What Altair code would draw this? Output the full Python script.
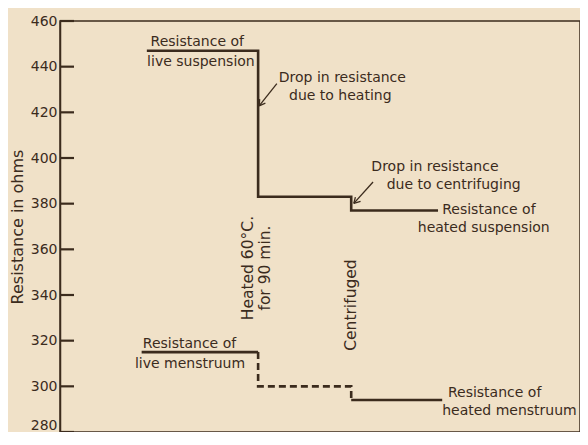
import altair as alt
import pandas as pd

# ---- data ----
# x is an arbitrary time/stage axis (0-100), y is resistance in ohms
susp_x = [16.7, 38.1, 56.0, 72.7]
susp_y = [447, 383, 377, 377]

mens_live_x = [15.7, 38.1]
mens_live_y = [315, 315]
mens_drop_x = [38.1, 38.1, 56.0]
mens_drop_y = [315, 300, 294]
mens_heat_x = [56.0, 73.5]
mens_heat_y = [294, 294]

y_ticks = [280, 300, 320, 340, 360, 380, 400, 420, 440, 460]

ann_text = ["Resistance of", "live suspension",
            "Drop in resistance", "due to heating",
            "Drop in resistance", "due to centrifuging",
            "Resistance of", "live menstruum"]
ann_x = [26.4, 27.1, 54.3, 53.9, 72.1, 75.7, 24.9, 25.0]
ann_y = [450.6, 442.0, 435.2, 427.3, 396.0, 388.0, 318.5, 310.0]

left_text = ["Resistance of", "heated suspension", "Resistance of", "heated menstruum"]
left_x = [73.5, 68.8, 74.6, 73.5]
left_y = [377.1, 369.2, 297.0, 289.0]

rot_text = ["Heated 60°C.", "for 90 min.", "Centrifuged"]
rot_x = [36.1, 39.4, 56.0]
rot_y = [351.8, 351.8, 335.6]

# arrows: shaft + two barbs, each a segment id
arrow_seg = ["a1", "a1", "a1b1", "a1b1", "a1b2", "a1b2",
             "a2", "a2", "a2b1", "a2b1", "a2b2", "a2b2"]
arrow_x = [41.7, 38.3, 38.3, 39.5, 38.3, 38.4,
           60.2, 56.5, 56.5, 57.8, 56.5, 56.8]
arrow_y = [432.6, 422.8, 422.8, 424.0, 422.8, 425.8,
           389.5, 380.1, 380.1, 381.0, 380.1, 382.9]

INK = "#3b2b1d"
BG = "#f0e1c8"
FONT = "DejaVu Sans"
FS = 14

xs = alt.Scale(domain=[0, 100], nice=False)
ys = alt.Scale(domain=[280, 460], nice=False, zero=False)

def line_df(xv, yv):
    return pd.DataFrame({"x": xv, "y": yv, "o": list(range(len(xv)))})

X = alt.X("x:Q", scale=xs, axis=None)
Y = alt.Y("y:Q", scale=ys,
          axis=alt.Axis(values=y_ticks, title="Resistance in ohms", tickSize=0,
                        grid=False, labelFontSize=14, labelPadding=3,
                        labelBaseline={"condition": {"test": "datum.value === 280",
                                                     "value": "bottom"},
                                       "value": "middle"},
                        labelColor=INK, labelFont=FONT, titleFont=FONT,
                        titleFontWeight="normal", titleFontSize=16,
                        titleColor=INK, titlePadding=5, domainColor=INK,
                        domainWidth=1.5))

susp = alt.Chart(line_df(susp_x, susp_y)).mark_line(
    interpolate="step-after", color=INK, strokeWidth=2.6
).encode(x=X, y=Y, order="o:O")

m1 = alt.Chart(line_df(mens_live_x, mens_live_y)).mark_line(
    color=INK, strokeWidth=2.6).encode(x=X, y=Y, order="o:O")
m2 = alt.Chart(line_df(mens_drop_x, mens_drop_y)).mark_line(
    interpolate="step-after", color=INK, strokeWidth=2.6, strokeDash=[7, 4]
).encode(x=X, y=Y, order="o:O")
m3 = alt.Chart(line_df(mens_heat_x, mens_heat_y)).mark_line(
    color=INK, strokeWidth=2.6).encode(x=X, y=Y, order="o:O")

ticks = alt.Chart(pd.DataFrame({"y": y_ticks})).mark_rule(
    color=INK, strokeWidth=2.2).encode(
    y=alt.Y("y:Q", scale=ys), x=alt.value(0), x2=alt.value(14))

arrows_df = pd.DataFrame({"seg": arrow_seg, "x": arrow_x, "y": arrow_y,
                          "o": list(range(len(arrow_x)))})
arrows = alt.Chart(arrows_df).mark_line(color=INK, strokeWidth=1.3).encode(
    x=X, y=Y, detail="seg:N", order="o:O")

ann = alt.Chart(pd.DataFrame({"t": ann_text, "x": ann_x, "y": ann_y})).mark_text(
    font=FONT, fontSize=FS, color=INK, align="center", baseline="middle"
).encode(x=X, y=Y, text="t:N")

annl = alt.Chart(pd.DataFrame({"t": left_text, "x": left_x, "y": left_y})).mark_text(
    font=FONT, fontSize=FS, color=INK, align="left", baseline="middle"
).encode(x=X, y=Y, text="t:N")

rot = alt.Chart(pd.DataFrame({"t": rot_text, "x": rot_x, "y": rot_y})).mark_text(
    font=FONT, fontSize=15.5, color=INK, align="center", baseline="middle", angle=270
).encode(x=X, y=Y, text="t:N")

chart = alt.layer(susp, m1, m2, m3, ticks, arrows, ann, annl, rot).properties(
    width=520, height=411,
    autosize=alt.AutoSizeParams(type="none"),
    padding={"left": 52, "top": 13, "right": 0, "bottom": 0},
    background=BG,
).configure_view(stroke=INK, strokeWidth=1.5)

chart.save("out.html", embed_options={"renderer": "svg", "actions": False})
